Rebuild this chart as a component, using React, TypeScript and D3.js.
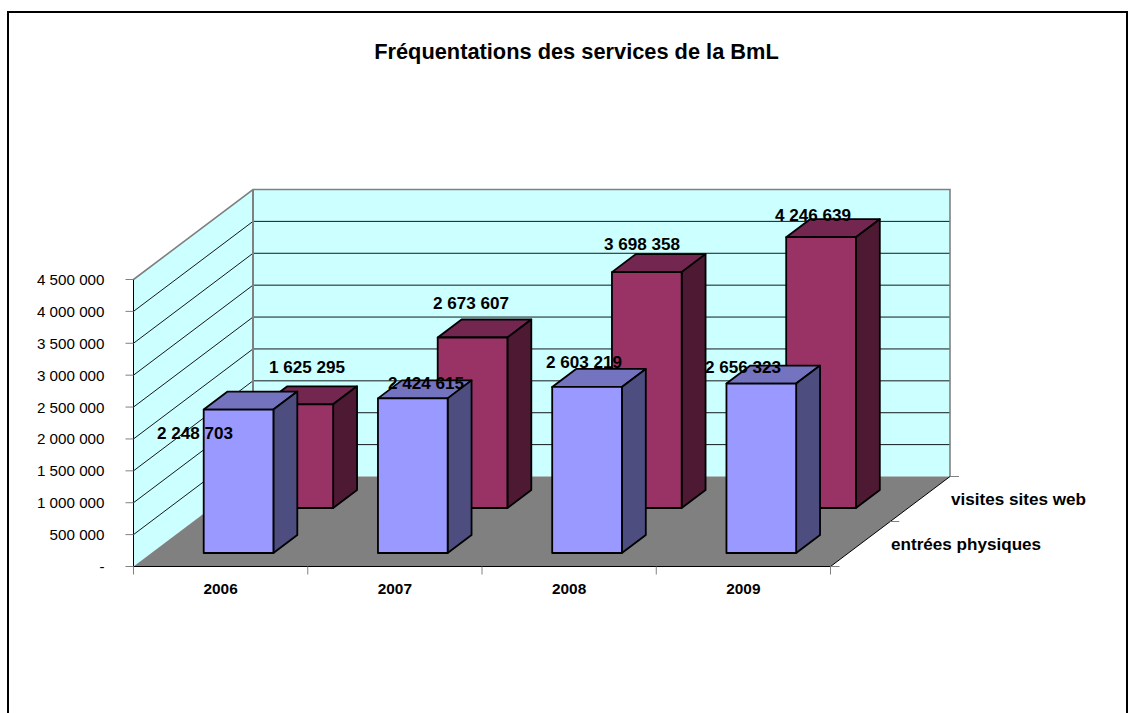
import React from "react";
import * as d3 from "d3";

const title = "Fréquentations des services de la BmL";
const categories = ["2006", "2007", "2008", "2009"];
const seriesNames = ["entrées physiques", "visites sites web"];
const entrees = [2248703, 2424615, 2603219, 2656323];
const visites = [1625295, 2673607, 3698358, 4246639];
const yTicks = [0, 500000, 1000000, 1500000, 2000000, 2500000, 3000000, 3500000, 4000000, 4500000];

// label placement (layout, kept apart from the data)
const entreesLabelX = [195, 426, 584, 743];
const entreesLabelY = [439, 389, 368, 373];
const visitesLabelX = [307, 471, 642, 813];
const visitesLabelY = [373, 309, 250, 221];

const FONT = "'Liberation Sans', Arial, sans-serif";
const x0 = 133.5, x1 = 830.5, y0 = 566.5;
const depthX = 119.5, depthY = -90;
const H = 287;

const xScale = d3.scaleBand<string>().domain(categories).range([x0, x1]);
const yScale = d3.scaleLinear().domain([0, 4500000]).range([0, H]);
const zScale = d3.scaleBand<string>().domain(seriesNames).range([0, 1]);
const fmt = (v: number) => (v === 0 ? "-" : d3.format(",")(v).replace(/,/g, " "));
const pts = (p: number[][]) => p.map((q) => q.join(",")).join(" ");

function Bar({ cat, series, value, colors }: { cat: string; series: string; value: number; colors: string[] }) {
  const bw = xScale.bandwidth();
  const w = bw * 0.4;
  const z = zScale(series)! + zScale.bandwidth() * 0.3;
  const dz = zScale.bandwidth() * 0.4;
  const left = xScale(cat)! + (bw - w) / 2 + z * depthX;
  const base = y0 + z * depthY;
  const top = base - yScale(value);
  const ddx = dz * depthX, ddy = dz * depthY;
  const common = { stroke: "#000", strokeWidth: 1.8, strokeLinejoin: "round" as const };
  return (
    <g>
      <polygon points={pts([[left, top], [left + ddx, top + ddy], [left + w + ddx, top + ddy], [left + w, top]])} fill={colors[1]} {...common} />
      <polygon points={pts([[left + w, top], [left + w + ddx, top + ddy], [left + w + ddx, base + ddy], [left + w, base]])} fill={colors[2]} {...common} />
      <rect x={left} y={top} width={w} height={base - top} fill={colors[0]} {...common} />
    </g>
  );
}

export default function App() {
  const bx = x0 + depthX, by = y0 + depthY, bxr = x1 + depthX;
  const backTop = by - H;
  return (
    <svg width={1135} height={713} style={{ position: "absolute", left: 0, top: 0, background: "#fff" }} fontFamily={FONT}>
      <path d="M8,713 V12 H1127 V713" fill="none" stroke="#000" strokeWidth={2} />
      <text x={576.5} y={59} textAnchor="middle" fontSize={21.8} fontWeight="bold">{title}</text>

      <polygon points={pts([[bx, by], [bxr, by], [bxr, backTop], [bx, backTop]])} fill="#CCFFFF" />
      <polygon points={pts([[x0, y0], [bx, by], [bx, backTop], [x0, y0 - H]])} fill="#CCFFFF" />
      <polygon points={pts([[x0, y0], [x1, y0], [bxr, by], [bx, by]])} fill="#808080" />

      {yTicks.slice(1, -1).map((t) => (
        <g key={t} stroke="#000" strokeWidth={1} opacity={0.9}>
          <line x1={bx} x2={bxr} y1={by - yScale(t)} y2={by - yScale(t)} />
          <line x1={x0} x2={bx} y1={y0 - yScale(t)} y2={by - yScale(t)} />
        </g>
      ))}
      <path d={`M${x0},${y0 - H} L${bx},${backTop} H${bxr} V${by}`} fill="none" stroke="#808080" strokeWidth={1.6} />
      <line x1={bx} x2={bx} y1={backTop} y2={by} stroke="#808080" strokeWidth={2} />

      {categories.map((c, i) => <Bar key={c} cat={c} series={seriesNames[1]} value={visites[i]} colors={["#993366", "#732650", "#4D1933"]} />)}
      {categories.map((c, i) => <Bar key={c} cat={c} series={seriesNames[0]} value={entrees[i]} colors={["#9999FF", "#7373BF", "#4D4D80"]} />)}

      <g stroke="#000" strokeWidth={1}>
        <line x1={x0} x2={x0} y1={y0 - H} y2={y0} />
        <line x1={x0} x2={x1} y1={y0} y2={y0} />
        <line x1={x1} x2={bxr} y1={y0} y2={by} />
      </g>
      <g stroke="#808080" strokeWidth={1}>
        {yTicks.map((t) => <line key={t} x1={x0 - 8} x2={x0} y1={y0 - yScale(t)} y2={y0 - yScale(t)} />)}
        {[0, 0.5, 1].map((d) => (
          <line key={d} x1={x1 + d * depthX} x2={x1 + d * depthX + 9} y1={y0 + d * depthY} y2={y0 + d * depthY} />
        ))}
        {[...categories.map((c) => xScale(c)!), x1].map((x) => <line key={x} x1={x} x2={x} y1={y0} y2={y0 + 8} />)}
      </g>

      {yTicks.map((t) => (
        <text key={t} x={104.5} y={y0 - yScale(t) + 5.5} textAnchor="end" fontSize={15.2}>{fmt(t)}</text>
      ))}
      {categories.map((c) => (
        <text key={c} x={xScale(c)! + xScale.bandwidth() / 2} y={y0 + 27} textAnchor="middle" fontSize={15.4} fontWeight="bold">{c}</text>
      ))}
      <text x={951} y={505} fontSize={17.1} fontWeight="bold">{seriesNames[1]}</text>
      <text x={891} y={550} fontSize={17.1} fontWeight="bold">{seriesNames[0]}</text>

      {entrees.map((v, i) => (
        <text key={i} x={entreesLabelX[i]} y={entreesLabelY[i]} textAnchor="middle" fontSize={17.1} fontWeight="bold">{fmt(v)}</text>
      ))}
      {visites.map((v, i) => (
        <text key={i} x={visitesLabelX[i]} y={visitesLabelY[i]} textAnchor="middle" fontSize={17.1} fontWeight="bold">{fmt(v)}</text>
      ))}
    </svg>
  );
}
